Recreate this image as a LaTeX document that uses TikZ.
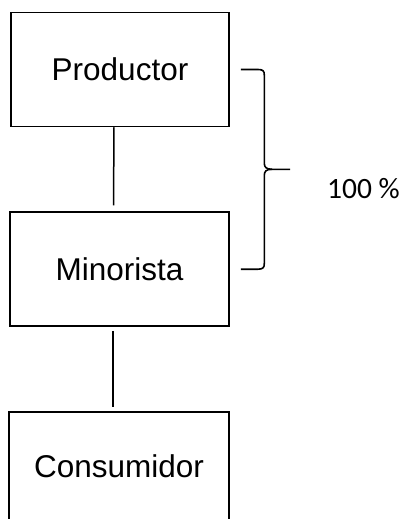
\documentclass[tikz,border=0pt]{standalone}
\usepackage{fontspec}
\setmainfont{Liberation Sans}
\newfontfamily\pctfont{Carlito}
\begin{document}
\begin{tikzpicture}[x=1pt,y=-1pt,
  box/.style={draw=black,line width=1.5pt,minimum height=114pt,inner sep=0pt,
    text height=22pt,text depth=0pt,font=\fontsize{31.5}{36}\selectfont},
  conn/.style={line width=1.5pt},
  brace/.style={line width=1.6pt,line join=round}]
\useasboundingbox (0,0) rectangle (401,519);
\clip (0,0) rectangle (401,519);
\node[box,minimum width=218pt] (prod) at (120,69.5) {Productor};
\node[box,minimum width=219pt] (mino) at (119.5,269.2) {Minorista};
\node[box,minimum width=220pt,minimum height=109pt] (cons) at (119,466.3) {Consumidor};
\draw[conn] ([xshift=-6pt]prod.south) -- ([xshift=-6pt,yshift=6pt]mino.north);
\draw[conn] ([xshift=-6.5pt,yshift=-4pt]mino.south) -- ([xshift=-6pt,yshift=4.5pt]cons.north);
\draw[brace] ([xshift=11pt]prod.east) -- (258,69.5) .. controls (263,69.5) and (264.3,71) .. (264.3,75)
  -- (264.3,163) .. controls (264.3,167) and (266,169.3) .. (272,169.3) -- (290,169.3);
\draw[brace] (272,169.3) .. controls (266,169.3) and (264.3,171.5) .. (264.3,175.5)
  -- (264.3,263.5) .. controls (264.3,267.5) and (263,269.2) .. (258,269.2) -- ([xshift=11pt]mino.east);
\node[anchor=base west,inner sep=0pt,font=\pctfont\fontsize{29.5}{34}\selectfont] (pct) at (327,198.7) {100 \%};
\end{tikzpicture}
\end{document}
